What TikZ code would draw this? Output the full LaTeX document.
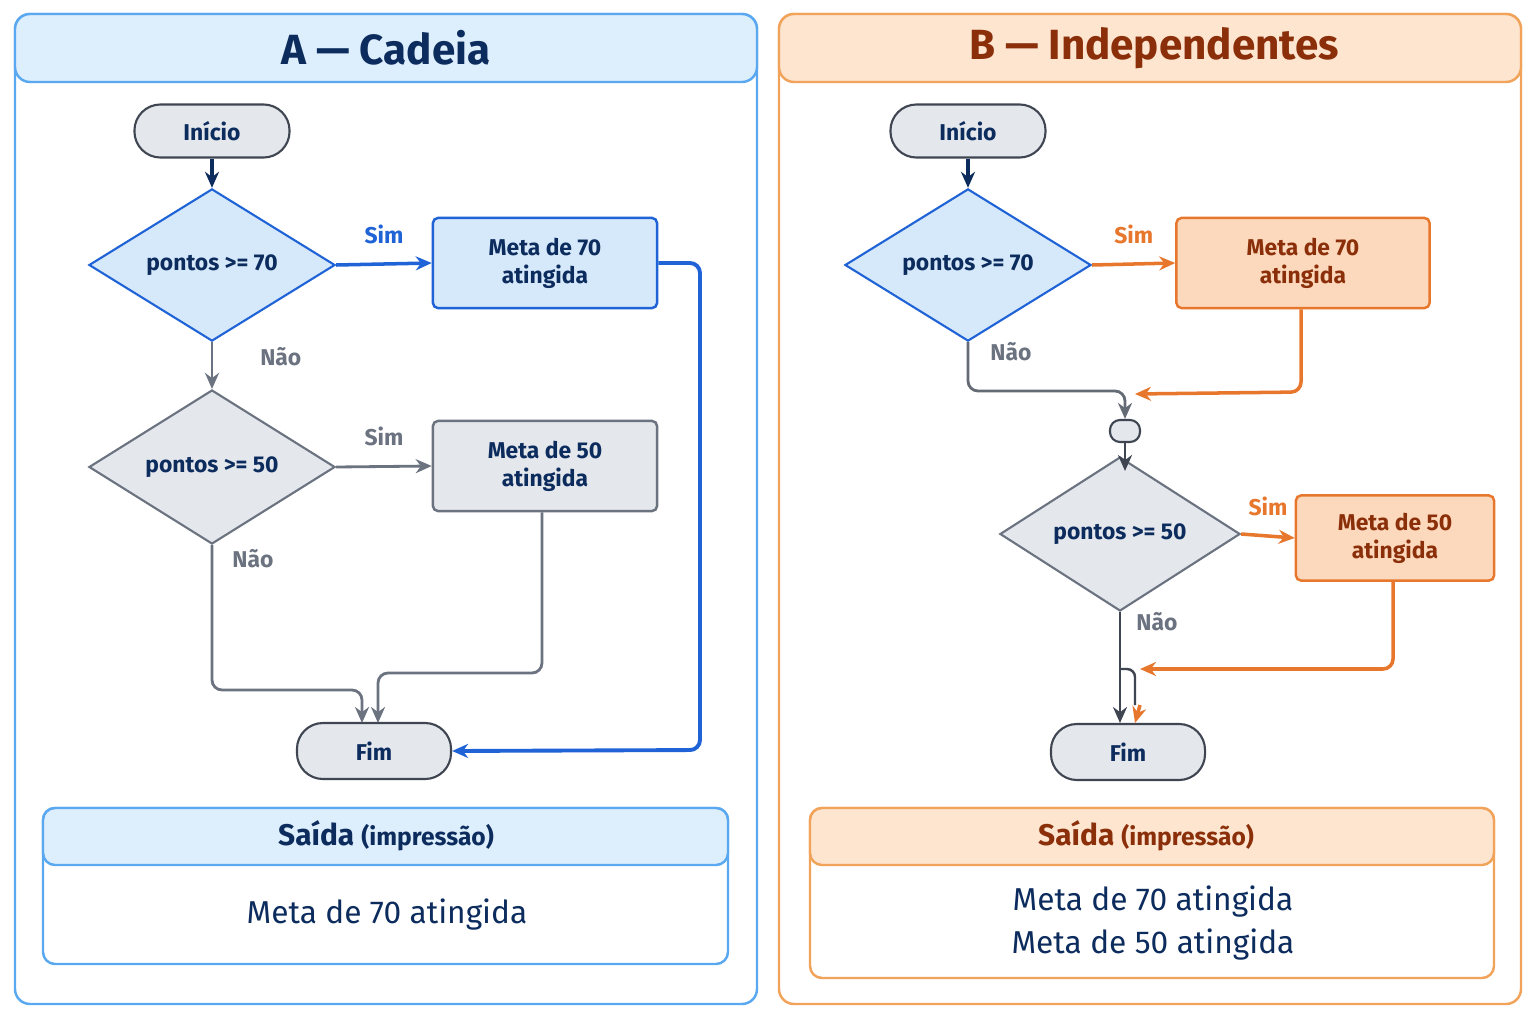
\documentclass[tikz,border=0pt]{standalone}
\usepackage{fontspec}
\setmainfont{Fira Sans}
\usetikzlibrary{shapes.geometric,arrows.meta}
\definecolor{navy}{HTML}{0D2C5E}
\definecolor{bluel}{HTML}{1F63D6}
\definecolor{bluef}{HTML}{D6E9FB}
\definecolor{blueb}{HTML}{5AA8F0}
\definecolor{blueh}{HTML}{DDEEFC}
\definecolor{grayb}{HTML}{6B7280}
\definecolor{grayf}{HTML}{E4E7EC}
\definecolor{darkb}{HTML}{3F4652}
\definecolor{orl}{HTML}{E8772E}
\definecolor{orf}{HTML}{FCD9BC}
\definecolor{orb}{HTML}{F2A35A}
\definecolor{orh}{HTML}{FDE5D0}
\definecolor{brownt}{HTML}{8B2F0A}
\tikzset{
  term/.style={draw=darkb,fill=grayf,line width=0.6pt,rounded corners=2.6mm,minimum width=1.55cm,minimum height=0.53cm,font=\fontsize{6.5}{7}\selectfont\bfseries,text=navy},
  dec/.style={diamond,draw=#1,line width=0.6pt,minimum width=2.46cm,minimum height=1.36cm,inner sep=0pt,font=\fontsize{6.5}{7}\selectfont\bfseries,text=navy},
  actbox/.style={draw=#1,line width=0.7pt,rounded corners=0.5mm,minimum width=2.24cm,minimum height=0.9cm,align=center,font=\fontsize{6.5}{8}\selectfont\bfseries,text=navy},
  arr/.style={-{Stealth[length=1.6mm,width=1.4mm]},line width=#1},
  lab/.style={font=\fontsize{6.5}{7}\selectfont\bfseries}
}
\begin{document}
\begin{tikzpicture}[x=0.01cm,y=-0.01cm]
\useasboundingbox (0,0) rectangle (1536,1024);
\fill[white] (0,0) rectangle (1536,1024);
% panel A
\draw[blueb,line width=0.7pt,rounded corners=1.5mm] (15,14) rectangle (757,1004);
\draw[blueb,fill=blueh,line width=0.7pt,rounded corners=1.5mm] (15,14) rectangle (757,82);
\node[font=\fontsize{12}{14}\selectfont\bfseries,text=navy] (titA) at (386,48) {A — Cadeia};
\node[term] (iniA) at (212,131) {Início};
\node[dec=bluel,fill=bluef] (dA1) at (212,265) {pontos >= 70};
\node[actbox=bluel,fill=bluef] (mA70) at (545,263) {Meta de 70\\atingida};
\node[dec=grayb,fill=grayf,minimum height=1.4cm] (dA2) at (212,467) {pontos >= 50};
\node[actbox=grayb,fill=grayf] (mA50) at (545,466) {Meta de 50\\atingida};
\node[term,minimum height=0.56cm,minimum width=1.54cm] (fimA) at (374,751) {Fim};
\draw[arr=0.9pt,navy] (iniA) -- (dA1);
\draw[arr=1pt,bluel] (dA1.east) -- (mA70.west) node[lab,midway,above=2pt,text=bluel] {Sim};
\draw[arr=0.8pt,grayb] (dA1.south) -- (dA2.north) node[lab,pos=0.3,right=10pt,text=grayb] {Não};
\draw[arr=0.8pt,grayb] (dA2.east) -- (mA50.west) node[lab,midway,above=2pt,text=grayb] {Sim};
\draw[arr=0.8pt,grayb,rounded corners=1mm] (dA2.south) -- (212,690) -- (362,690) -- (362,723);
\node[lab,text=grayb] (noA2) at (253,559) {Não};
\draw[arr=0.8pt,grayb,rounded corners=1mm] (mA50.south -| 542,0) -- (542,673) -- (378,673) -- (378,723);
\draw[arr=1.1pt,bluel,rounded corners=1mm] (mA70.east) -- (700,263) -- (700,750) -- (fimA.east);
\draw[blueb,line width=0.7pt,rounded corners=1.2mm] (43,808) rectangle (728,964);
\draw[blueb,fill=blueh,line width=0.7pt,rounded corners=1.2mm] (43,808) -- (43,865) -- (728,865) -- (728,808) -- cycle;
\node[text=navy] (saiA) at (386,836) {\fontsize{8.5}{10}\selectfont\bfseries Saída \fontsize{7}{8}\selectfont(impressão)};
\node[text=navy,font=\fontsize{9}{11}\selectfont] (outA) at (387,915) {Meta de 70 atingida};
% panel B
\draw[orb,line width=0.7pt,rounded corners=1.5mm] (779,14) rectangle (1521,1004);
\draw[orb,fill=orh,line width=0.7pt,rounded corners=1.5mm] (779,14) rectangle (1521,82);
\node[font=\fontsize{12}{14}\selectfont\bfseries,text=brownt] (titB) at (1154,48) {B — Independentes};
\node[term] (iniB) at (968,131) {Início};
\node[dec=bluel,fill=bluef] (dB1) at (968,265) {pontos >= 70};
\node[actbox=orl,fill=orf,minimum width=2.53cm,text=brownt] (mB70) at (1303,263) {Meta de 70\\atingida};
\node[draw=darkb,fill=grayf,line width=0.6pt,rounded corners=1mm,minimum width=0.3cm,minimum height=0.22cm,inner sep=0pt] (jB) at (1125,431) {};
\node[dec=grayb,fill=grayf,minimum width=2.4cm,minimum height=1.28cm] (dB2) at (1120,534) {pontos >= 50};
\node[actbox=orl,fill=orf,minimum width=1.98cm,minimum height=0.85cm,text=brownt] (mB50) at (1395,538) {Meta de 50\\atingida};
\node[term,minimum height=0.56cm,minimum width=1.54cm] (fimB) at (1128,752) {Fim};
\draw[arr=0.9pt,navy] (iniB) -- (dB1);
\draw[arr=1pt,orl] (dB1.east) -- (mB70.west) node[lab,midway,above=2pt,text=orl] {Sim};
\draw[arr=0.8pt,darkb!80,rounded corners=1mm] (dB1.south) -- (968,391) -- (1125,391) -- (jB.north);
\node[lab,text=grayb] (noB1) at (1011,352) {Não};
\draw[arr=1pt,orl,rounded corners=1mm] (mB70.south -| 1301,0) -- (1301,392) -- (1135,394);
\draw[arr=0.8pt,darkb] (jB.south) -- (1125,471);
\draw[arr=1pt,orl] (dB2.east) -- (mB50.west) node[lab,midway,above=2pt,text=orl] {Sim};
\draw[arr=0.8pt,darkb] (dB2.south) -- (1120,723);
\node[lab,text=grayb] (noB2) at (1157,622) {Não};
\draw[arr=1pt,orl,rounded corners=1mm] (mB50.south -| 1393,0) -- (1393,669) -- (1140,669);
\draw[darkb,line width=0.7pt,rounded corners=0.8mm] (1120,669) -- (1135,669) -- (1135,705);
\draw[arr=1pt,orl] (1140,705) -- (1135,723);
\draw[orb,line width=0.7pt,rounded corners=1.2mm] (810,808) rectangle (1494,978);
\draw[orb,fill=orh,line width=0.7pt,rounded corners=1.2mm] (810,808) -- (810,865) -- (1494,865) -- (1494,808) -- cycle;
\node[text=brownt] (saiB) at (1146,836) {\fontsize{8.5}{10}\selectfont\bfseries Saída \fontsize{7}{8}\selectfont(impressão)};
\node[text=navy,font=\fontsize{9}{11}\selectfont,align=center] (outB) at (1153,923) {Meta de 70 atingida\\[1pt]Meta de 50 atingida};
\end{tikzpicture}
\end{document}
